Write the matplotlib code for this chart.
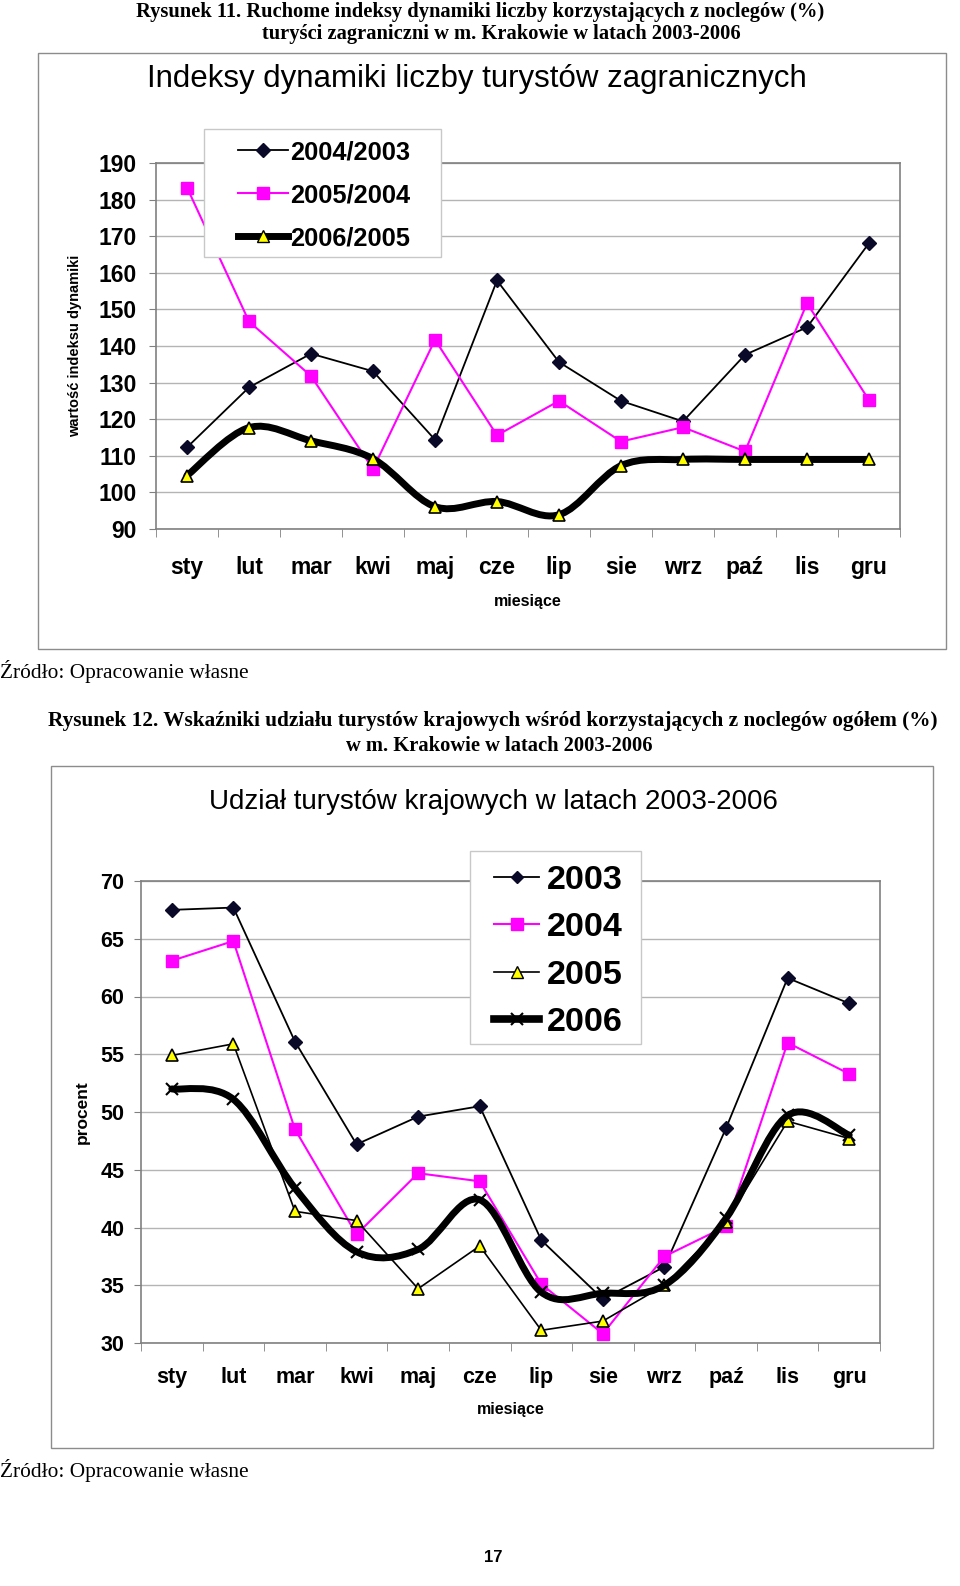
import matplotlib
matplotlib.use("Agg")
import matplotlib.pyplot as plt
from matplotlib.path import Path
from matplotlib.patches import PathPatch, Rectangle
from matplotlib.lines import Line2D

# ---- data ----
months = ["sty", "lut", "mar", "kwi", "maj", "cze", "lip", "sie", "wrz", "paź", "lis", "gru"]

idx_04_03 = [112.3, 128.7, 137.9, 133.1, 114.4, 157.9, 135.6, 125.0, 119.4, 137.6, 145.1, 168.1]
idx_05_04 = [183.3, 146.7, 131.8, 106.4, 141.7, 115.6, 125.0, 113.9, 117.8, 111.2, 151.7, 125.2]
idx_06_05 = [104.6, 117.7, 114.1, 109.2, 96.1, 97.5, 93.9, 107.3, 109.0, 109.0, 109.0, 109.0]

share_2003 = [67.5, 67.7, 56.1, 47.2, 49.6, 50.5, 38.9, 33.8, 36.6, 48.6, 61.6, 59.4]
share_2004 = [63.1, 64.8, 48.5, 39.4, 44.7, 44.0, 35.1, 30.8, 37.5, 40.1, 56.0, 53.3]
share_2005 = [54.9, 55.9, 41.4, 40.6, 34.7, 38.4, 31.1, 31.9, 35.0, 40.5, 49.2, 47.7]
share_2006 = [52.0, 51.1, 43.4, 37.9, 38.1, 42.4, 34.4, 34.3, 35.0, 40.8, 49.7, 48.0]

W, H = 960, 1586
SANS = "Liberation Sans"
SERIF = "Liberation Serif"
GRID = "#b4b4b4"
AXIS = "#808080"
BORDER = "#8c8c8c"
DARK = "#0a0a28"


def fx(px):
    return px / W


def fy(py):
    return 1 - py / H


def smooth_path(xs, ys):
    # Excel style smoothed line: cubic Bezier segments (Catmull-Rom control points)
    pts = list(zip(xs, ys))
    n = len(pts)
    verts = [pts[0]]
    codes = [Path.MOVETO]
    for i in range(n - 1):
        p0 = pts[max(i - 1, 0)]
        p1 = pts[i]
        p2 = pts[i + 1]
        p3 = pts[min(i + 2, n - 1)]
        c1 = (p1[0] + (p2[0] - p0[0]) / 6, p1[1] + (p2[1] - p0[1]) / 6)
        c2 = (p2[0] - (p3[0] - p1[0]) / 6, p2[1] - (p3[1] - p1[1]) / 6)
        verts += [c1, c2, p2]
        codes += [Path.CURVE4] * 3
    return Path(verts, codes)


def style_axes(ax, ylim, step, fs, xpad, ypad):
    ax.set_xlim(-0.5, len(months) - 0.5)
    ax.set_ylim(*ylim)
    ax.set_yticks(range(ylim[0], ylim[1] + 1, step))
    ax.set_xticks(range(len(months)))
    ax.set_xticklabels(months)
    ax.set_xticks([i - 0.5 for i in range(len(months) + 1)], minor=True)
    ax.tick_params(axis="x", which="major", length=0, pad=xpad, labelsize=fs)
    ax.tick_params(axis="x", which="minor", length=6, direction="out", color=AXIS)
    ax.tick_params(axis="y", length=5, direction="out", pad=ypad, labelsize=fs, color=AXIS)
    for lab in ax.get_xticklabels() + ax.get_yticklabels():
        lab.set_fontfamily(SANS)
        lab.set_fontweight("bold")
    ax.grid(axis="y", color=GRID, linewidth=1.0)
    ax.set_axisbelow(True)
    for sp in ax.spines.values():
        sp.set_color(AXIS)
        sp.set_linewidth(1.2)


def legend_box(x0, y0, x1, y1):
    fig.patches.append(Rectangle((fx(x0), fy(y1)), fx(x1) - fx(x0), fy(y0) - fy(y1),
                                 transform=fig.transFigure, facecolor="white",
                                 edgecolor="#c8c8c8", lw=1, zorder=2))


fig = plt.figure(figsize=(W / 100, H / 100), dpi=100)
fig.patch.set_facecolor("white")

# ---- captions ----
fig.text(fx(480), fy(12), "Rysunek 11. Ruchome indeksy dynamiki liczby korzystających z noclegów (%)",
         family=SERIF, weight="bold", fontsize=14.8, ha="center", va="center")
fig.text(fx(501), fy(34), "turyści zagraniczni w m. Krakowie w latach 2003-2006",
         family=SERIF, weight="bold", fontsize=14.8, ha="center", va="center")

fig.patches.append(Rectangle((fx(38), fy(649)), fx(946) - fx(38), fy(53) - fy(649),
                             transform=fig.transFigure, fill=False, edgecolor=BORDER, lw=1))
fig.text(fx(477), fy(79), "Indeksy dynamiki liczby turystów zagranicznych",
         family=SANS, fontsize=22.5, ha="center", va="center")

# ---- chart 1 ----
x = list(range(len(months)))
ax1 = fig.add_axes([fx(156), fy(529), fx(900) - fx(156), fy(163) - fy(529)])
style_axes(ax1, (90, 190), 10, 16.5, 19.5, 9)

ax1.plot(x, idx_04_03, color="black", lw=1.3, marker="D", ms=7, mfc=DARK, mec=DARK, zorder=3)
ax1.plot(x, idx_05_04, color="#ff00ff", lw=1.5, marker="s", ms=9, mfc="#ff00ff", mec="#ff00ff", zorder=3)
ax1.add_patch(PathPatch(smooth_path(x, idx_06_05), fill=False, lw=5, edgecolor="black",
                        capstyle="round", joinstyle="round", zorder=4))
ax1.plot(x, idx_06_05, ls="none", marker="^", ms=9, mfc="#ffff00", mec="black", mew=1.2, zorder=5)

ax1.set_xlabel("miesiące", family=SANS, fontsize=11.5, weight="bold", va="center")
ax1.xaxis.set_label_coords(0.5, -0.199)
ax1.set_ylabel("wartość indeksu dynamiki", family=SANS, fontsize=10.5, weight="bold", va="center")
ax1.yaxis.set_label_coords(-0.109, 0.5)

legend_box(204, 129, 441, 257)
h1 = [Line2D([], [], color="black", lw=1.3, marker="D", ms=7, mfc=DARK, mec=DARK),
      Line2D([], [], color="#ff00ff", lw=1.5, marker="s", ms=9, mfc="#ff00ff", mec="#ff00ff"),
      Line2D([], [], color="black", lw=5, marker="^", ms=9, mfc="#ffff00", mec="black")]
fig.legend(h1, ["2004/2003", "2005/2004", "2006/2005"], loc="upper left",
           bbox_to_anchor=(fx(238), fy(140)), prop={"family": SANS, "size": 18.3, "weight": "bold"},
           frameon=False, borderaxespad=0, borderpad=0, handlelength=1.97,
           labelspacing=0.75, handletextpad=0.08)

fig.text(fx(0), fy(671), "Źródło: Opracowanie własne", family=SERIF, fontsize=15.4, ha="left", va="center")

# ---- chart 2 captions ----
fig.text(fx(493), fy(721), "Rysunek 12. Wskaźniki udziału turystów krajowych wśród korzystających z noclegów ogółem (%)",
         family=SERIF, weight="bold", fontsize=15.3, ha="center", va="center")
fig.text(fx(499), fy(746), "w m. Krakowie w latach 2003-2006",
         family=SERIF, weight="bold", fontsize=14.8, ha="center", va="center")

fig.patches.append(Rectangle((fx(51), fy(1448)), fx(933) - fx(51), fy(766) - fy(1448),
                             transform=fig.transFigure, fill=False, edgecolor=BORDER, lw=1))
fig.text(fx(493), fy(802), "Udział turystów krajowych w latach 2003-2006",
         family=SANS, fontsize=20, ha="center", va="center")

# ---- chart 2 ----
ax2 = fig.add_axes([fx(141), fy(1343), fx(880) - fx(141), fy(881) - fy(1343)])
style_axes(ax2, (30, 70), 5, 15.5, 17.3, 7)

ax2.plot(x, share_2003, color="black", lw=1.3, marker="D", ms=7, mfc=DARK, mec=DARK, zorder=3)
ax2.plot(x, share_2004, color="#ff00ff", lw=1.5, marker="s", ms=9, mfc="#ff00ff", mec="#ff00ff", zorder=3)
ax2.plot(x, share_2005, color="black", lw=1.2, marker="^", ms=9, mfc="#ffff00", mec="black", mew=1.2, zorder=3)
ax2.add_patch(PathPatch(smooth_path(x, share_2006), fill=False, lw=5, edgecolor="black",
                        capstyle="round", joinstyle="round", zorder=4))
ax2.plot(x, share_2006, ls="none", marker="x", ms=9, mec="black", mew=1.5, zorder=5)

ax2.set_xlabel("miesiące", family=SANS, fontsize=11.5, weight="bold", va="center")
ax2.xaxis.set_label_coords(0.5, -0.143)
ax2.set_ylabel("procent", family=SANS, fontsize=12.5, weight="bold", va="center")
ax2.yaxis.set_label_coords(-0.080, 0.5)

legend_box(470, 851, 641, 1044)
h2 = [Line2D([], [], color="black", lw=1.3, marker="D", ms=6, mfc=DARK, mec=DARK),
      Line2D([], [], color="#ff00ff", lw=1.5, marker="s", ms=9, mfc="#ff00ff", mec="#ff00ff"),
      Line2D([], [], color="black", lw=1.2, marker="^", ms=8, mfc="#ffff00", mec="black"),
      Line2D([], [], color="black", lw=5.5, marker="x", ms=9, mec="black", mew=1.5)]
fig.legend(h2, ["2003", "2004", "2005", "2006"], loc="upper left",
           bbox_to_anchor=(fx(494), fy(865)), prop={"family": SANS, "size": 24.6, "weight": "bold"},
           frameon=False, borderaxespad=0, borderpad=0, handlelength=1.32,
           labelspacing=0.48, handletextpad=0.23)

fig.text(fx(0), fy(1471), "Źródło: Opracowanie własne", family=SERIF, fontsize=15.4, ha="left", va="center")
fig.text(fx(493), fy(1558), "17", family=SANS, weight="bold", fontsize=12, ha="center", va="center")

fig.savefig("out.png", dpi=100)
